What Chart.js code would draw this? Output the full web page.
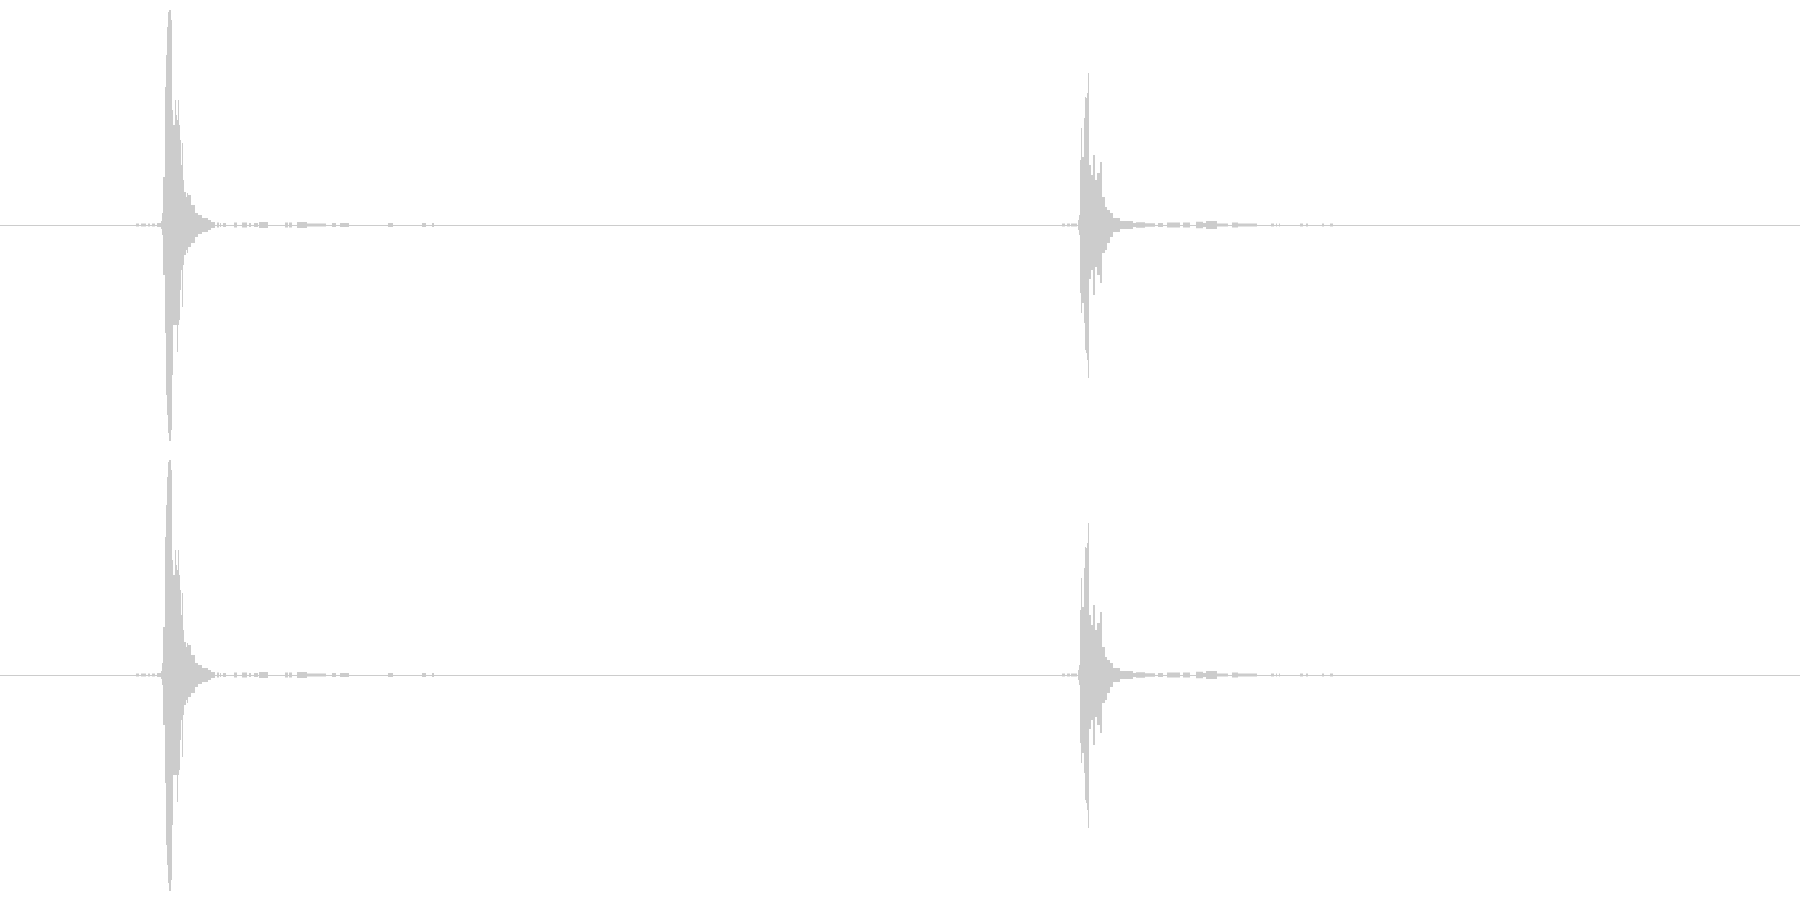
<!DOCTYPE html>
<html>
<head>
<meta charset="utf-8">
<script src="https://cdn.jsdelivr.net/npm/chart.js@4"></script>
<style>
  html, body { margin: 0; padding: 0; background: #fff; }
  .channel { position: relative; width: 1800px; height: 450px; }
</style>
</head>
<body>
<div class="channel"><canvas id="leftCh"></canvas></div>
<div class="channel"><canvas id="rightCh"></canvas></div>
<script>
// waveform envelope, amplitude in % of full scale
// each value holds from its frame column until the next one
const frameCol = [
  0, 136, 139, 141, 146, 148, 150, 152, 155, 157, 161, 162, 163, 165, 166, 167, 168, 169, 171, 172,
  173, 175, 176, 177, 178, 179, 180, 181, 182, 183, 184, 186, 187, 188, 191, 195, 198, 202, 208, 211,
  215, 217, 219, 220, 221, 223, 226, 234, 237, 242, 247, 249, 251, 254, 258, 259, 268, 285, 288, 289,
  292, 297, 307, 326, 332, 336, 340, 349, 388, 393, 422, 426, 432, 434,
  1062, 1065, 1067, 1070, 1071, 1077, 1078, 1079, 1080, 1081, 1082, 1084, 1085, 1086, 1087, 1088, 1089, 1091, 1093, 1095,
  1097, 1100, 1102, 1105, 1107, 1110, 1113, 1120, 1126, 1133, 1136, 1145, 1155, 1158, 1163, 1167, 1180, 1183, 1190, 1196,
  1203, 1206, 1217, 1228, 1232, 1238, 1257, 1271, 1274, 1276, 1277, 1279, 1280, 1300, 1303, 1306, 1308, 1322, 1324, 1330,
  1333, 1800
];
const peakMax = [
  0, 0.7, 0, 0.7, 0, 0.7, 0, 0.7, 0, 0.9, 1.8, 5.3, 21.3, 61.3, 75.6, 88, 94.7, 95.6, 91.1, 51.1,
  44.4, 55.6, 48.9, 46.7, 55.6, 44.4, 37.8, 26.7, 36.4, 20, 14.7, 12.4, 14.2, 13.3, 8.9, 5.3, 4.4, 3.1, 2.2, 1.3,
  0, 1.1, 0, 0.9, 0, 0.9, 0, 1.1, 0, 1.1, 0, 0.9, 0, 0.9, 0, 1.3, 0, 1.1, 0, 1.1,
  0, 1.3, 0.7, 0, 0.9, 0, 0.9, 0, 0.9, 0, 0.9, 0, 0.9, 0,
  0.7, 0, 0.7, 0, 0.7, 0, 2.2, 4.4, 28.9, 43.1, 30.2, 47.6, 56.9, 56.4, 58.7, 67.6, 26.7, 22.2, 31.1, 20,
  23.1, 28, 12.4, 8, 6.7, 5.3, 3.1, 1.8, 1.8, 0.9, 1.2, 0.8, 0, 0.9, 0, 1.1, 0, 1.1, 0, 1.4,
  0.9, 1.8, 0.7, 0, 1.1, 0.7, 0, 0.7, 0, 0.7, 0, 0.7, 0, 0.7, 0, 0.7, 0, 0.7, 0, 0.7,
  0, 0
];
const peakMin = [
  0, -0.7, 0, -0.7, 0, -0.7, 0, -0.7, 0, -0.9, -1.8, -4.4, -22.2, -48, -75.6, -84.4, -92.4, -96, -91.1, -66.7,
  -44.4, -44.4, -44.4, -56.4, -44.4, -42.2, -28.9, -20, -36.4, -17.8, -13.3, -11.1, -12.4, -9.8, -8, -5.3, -4, -3.1, -2.2, -1.3,
  0, -1.1, 0, -0.9, 0, -0.9, 0, -1.1, 0, -1.1, 0, -0.9, 0, -0.9, 0, -1.3, 0, -1.1, 0, -1.1,
  0, -1.3, -0.7, 0, -0.9, 0, -0.9, 0, -0.9, 0, -0.9, 0, -0.9, 0,
  -0.7, 0, -0.7, 0, -0.7, 0, -2.2, -4.4, -30.2, -39.1, -34.7, -43.6, -55.6, -56.9, -60, -68, -24, -20, -31.1, -18.7,
  -22.2, -25.8, -12.4, -11.1, -8, -5.3, -3.1, -1.8, -1.8, -0.9, -1.2, -0.8, 0, -0.9, 0, -1.1, 0, -1.1, 0, -1.4,
  -0.9, -1.8, -0.7, 0, -1.1, -0.7, 0, -0.7, 0, -0.7, 0, -0.7, 0, -0.7, 0, -0.7, 0, -0.7, 0, -0.7,
  0, 0
];
// both channels carry the same signal
const channels = [
  { id: 'leftCh', max: peakMax, min: peakMin },
  { id: 'rightCh', max: peakMax, min: peakMin }
];

const waveColor = '#cccccc';

function makeWave(ch) {
  const up = frameCol.map((x, i) => ({ x: x, y: ch.max[i] }));
  const down = frameCol.map((x, i) => ({ x: x, y: ch.min[i] }));
  const ds = (data) => ({
    data: data,
    stepped: true,
    fill: 'origin',
    backgroundColor: waveColor,
    borderColor: waveColor,
    borderWidth: 0,
    pointRadius: 0
  });

  return new Chart(document.getElementById(ch.id).getContext('2d'), {
    type: 'line',
    data: { datasets: [ds(up), ds(down)] },
    options: {
      responsive: true,
      maintainAspectRatio: false,
      animation: false,
      layout: { padding: 0 },
      plugins: { legend: { display: false }, tooltip: { enabled: false } },
      scales: {
        x: { type: 'linear', min: 0, max: 1800, display: false },
        y: {
          min: -100, max: 100,
          ticks: { display: false, stepSize: 100 },
          border: { display: false },
          grid: {
            drawTicks: false,
            lineWidth: 1,
            color: (c) => c.tick && c.tick.value === 0 ? waveColor : 'rgba(0,0,0,0)'
          }
        }
      }
    }
  });
}

channels.forEach(makeWave);
</script>
</body>
</html>
